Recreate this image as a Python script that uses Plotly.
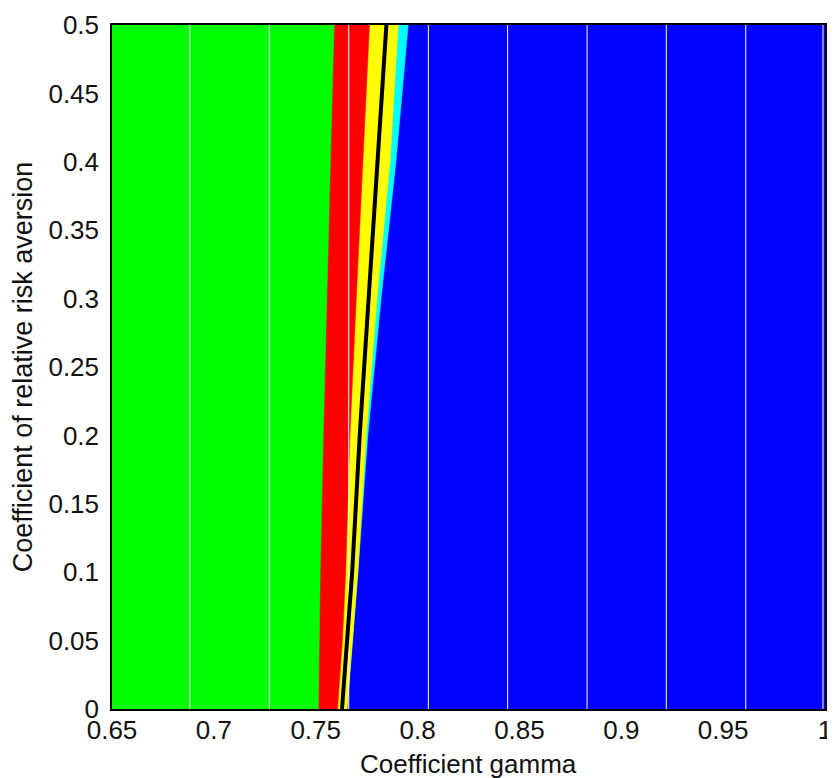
import plotly.graph_objects as go

# Coefficient of relative risk aversion (y) at which boundaries were read
risk_aversion = [0.0, 0.05, 0.1, 0.2, 0.3, 0.4, 0.5]
# Region boundaries in gamma (x) at each risk_aversion level
gamma_green_red = [0.7513, 0.7516, 0.7522, 0.7537, 0.7553, 0.7572, 0.7590]
gamma_red_yellow = [0.7607, 0.7631, 0.7647, 0.7668, 0.7699, 0.7732, 0.7764]
gamma_black_line = [0.7629, 0.7653, 0.7679, 0.7716, 0.7760, 0.7806, 0.7847]
gamma_yellow_cyan = [0.7654, 0.7681, 0.7707, 0.7748, 0.7801, 0.7865, 0.7905]
gamma_cyan_blue = [0.7654, 0.7681, 0.7707, 0.7756, 0.7821, 0.7894, 0.7954]
# light seams between rendered patches
patch_seams_gamma = [0.6882, 0.7272, 0.7662, 0.8053, 0.8442, 0.8832, 0.9221, 0.9611, 0.9990]

x_ticks = [0.65, 0.7, 0.75, 0.8, 0.85, 0.9, 0.95, 1.0]
x_tick_text = ["0.65", "0.7", "0.75", "0.8", "0.85", "0.9", "0.95", "1"]
y_ticks = [0, 0.05, 0.1, 0.15, 0.2, 0.25, 0.3, 0.35, 0.4, 0.45, 0.5]
y_tick_text = ["0", "0.05", "0.1", "0.15", "0.2", "0.25", "0.3", "0.35", "0.4", "0.45", "0.5"]

GREEN, RED, YELLOW, CYAN, BLUE = "#00FF00", "#FF0000", "#FFFF00", "#00FFFF", "#0000FF"

fig = go.Figure()
for xs, col in [(gamma_cyan_blue, CYAN), (gamma_yellow_cyan, YELLOW),
                (gamma_red_yellow, RED), (gamma_green_red, GREEN)]:
    fig.add_trace(go.Scatter(x=xs, y=risk_aversion, mode="lines", fill="tozerox",
                             fillcolor=col, line=dict(color=col, width=0.5),
                             hoverinfo="skip", showlegend=False))

seam_x, seam_y = [], []
for g in patch_seams_gamma:
    seam_x += [g, g, None]
    seam_y += [risk_aversion[0], risk_aversion[-1], None]
fig.add_trace(go.Scatter(x=seam_x, y=seam_y, mode="lines",
                         line=dict(color="white", width=1),
                         hoverinfo="skip", showlegend=False))

fig.add_trace(go.Scatter(x=gamma_black_line, y=risk_aversion, mode="lines",
                         line=dict(color="black", width=4),
                         hoverinfo="skip", showlegend=False))

font = dict(family="Liberation Sans, Arial, sans-serif", color="#111111")
# page has an 8px body margin; figure sized to the visible window area
fig.update_layout(
    width=819, height=770,
    margin=dict(l=104, r=2, t=17, b=69, autoexpand=False),
    paper_bgcolor="white", plot_bgcolor=BLUE,
    font=dict(size=26, **font),
    showlegend=False,
    annotations=[dict(text="Coefficient gamma", xref="paper", yref="paper",
                      x=0.5, y=0, xanchor="center", yanchor="top", yshift=-38,
                      showarrow=False, font=dict(size=26, **font))],
)
fig.update_xaxes(range=[0.65, 1.0], tickvals=x_ticks, ticktext=x_tick_text,
                 showgrid=False, zeroline=False, ticks="", showline=True,
                 linecolor="black", linewidth=1.5, mirror=True,
                 tickfont=dict(size=26, **font), ticklabelstandoff=-3,
                 ticklabeloverflow="allow")
fig.update_yaxes(range=[0, 0.5], tickvals=y_ticks, ticktext=y_tick_text,
                 showgrid=False, zeroline=False, ticks="", showline=True,
                 linecolor="black", linewidth=1.5, mirror=True,
                 tickfont=dict(size=26, **font), ticklabelstandoff=6,
                 title=dict(text="Coefficient of relative risk aversion",
                            font=dict(size=27, **font), standoff=18))

fig.write_html("out.html")
